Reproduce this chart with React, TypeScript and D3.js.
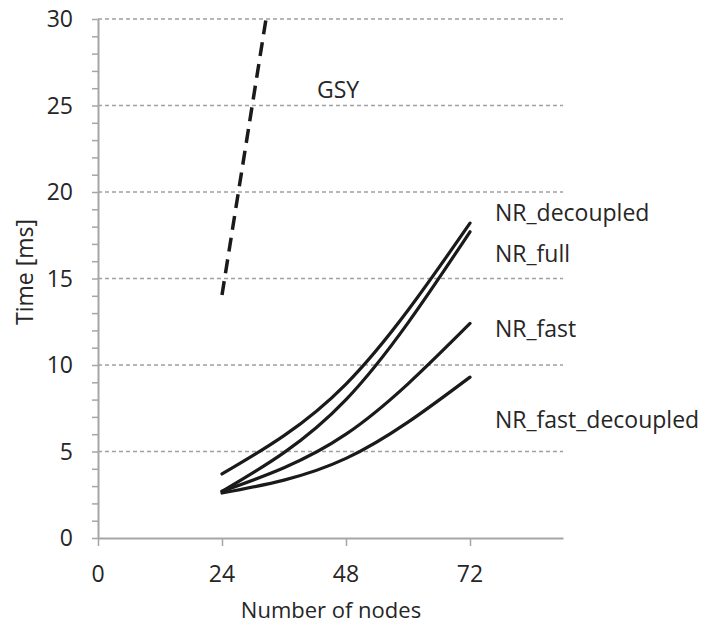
import React, { useRef, useEffect } from "react";
import * as d3 from "d3";

// nodes on x axis
const nodes = [24, 48, 72];

// series values (ms)
const nrDecoupled = [3.7, 8.9, 18.2];
const nrFull = [2.7, 8.0, 17.7];
const nrFast = [2.7, 6.0, 12.4];
const nrFastDecoupled = [2.6, 4.6, 9.3];
const gsy = [14.05, 59, 104];

const seriesNames = ["NR_decoupled", "NR_full", "NR_fast", "NR_fast_decoupled"];
const seriesValues = [nrDecoupled, nrFull, nrFast, nrFastDecoupled];
// baseline of each label, in ms
const labelValues = [18.4, 16.0, 11.65, 6.4];

const xTicks = [0, 24, 48, 72];
const yTicks = [0, 5, 10, 15, 20, 25, 30];

const App = () => {
  const svgRef = useRef<SVGSVGElement>(null);

  useEffect(() => {
    document.body.style.margin = "0";
    const svg = d3.select(svgRef.current);
    svg.selectAll("*").remove();

    const left = 98, right = 563, top = 19, bottom = 538;
    const font = "'Open Sans', sans-serif";
    const fontSize = 23;
    const textColor = "#262626";
    const axisColor = "#a6a6a6";

    const x = d3.scaleLinear().domain([0, 90]).range([left, right]);
    const y = d3.scaleLinear().domain([0, 30]).range([bottom, top]);

    svg
      .append("defs")
      .append("clipPath")
      .attr("id", "plot-clip")
      .append("rect")
      .attr("x", left)
      .attr("y", top)
      .attr("width", right - left)
      .attr("height", bottom - top);

    // gridlines
    svg
      .append("g")
      .selectAll("line")
      .data(yTicks.filter((d) => d > 0))
      .join("line")
      .attr("x1", left)
      .attr("x2", right)
      .attr("y1", (d) => y(d))
      .attr("y2", (d) => y(d))
      .attr("stroke", "#a0a0a0")
      .attr("stroke-width", 1.3)
      .attr("stroke-dasharray", "4,3");

    // y axis with minor ticks
    const yAxis = svg.append("g").attr("transform", `translate(${left},0)`);
    yAxis.call(
      d3
        .axisLeft(y)
        .tickValues(d3.range(0, 31, 1))
        .tickSize(6)
        .tickSizeOuter(0)
        .tickFormat(() => "")
    );
    yAxis.selectAll("line").attr("stroke", axisColor).attr("stroke-width", 1.5);
    yAxis.select(".domain").attr("stroke", axisColor).attr("stroke-width", 2);

    svg
      .append("g")
      .selectAll("text")
      .data(yTicks)
      .join("text")
      .attr("x", 73)
      .attr("y", (d) => y(d) + 8.3)
      .attr("text-anchor", "end")
      .attr("font-family", font)
      .attr("font-size", fontSize)
      .attr("fill", textColor)
      .text((d) => d);

    // x axis
    const xAxis = svg.append("g").attr("transform", `translate(0,${bottom})`);
    xAxis.call(d3.axisBottom(x).tickValues(xTicks).tickSize(8).tickSizeOuter(0).tickFormat(() => ""));
    xAxis.selectAll("line").attr("stroke", axisColor).attr("stroke-width", 1.5);
    xAxis.select(".domain").attr("stroke", axisColor).attr("stroke-width", 2);

    svg
      .append("g")
      .selectAll("text")
      .data(xTicks)
      .join("text")
      .attr("x", (d) => x(d))
      .attr("y", 582)
      .attr("text-anchor", "middle")
      .attr("font-family", font)
      .attr("font-size", fontSize)
      .attr("fill", textColor)
      .text((d) => d);

    // axis titles
    svg
      .append("text")
      .attr("x", 331)
      .attr("y", 618)
      .attr("text-anchor", "middle")
      .attr("font-family", font)
      .attr("font-size", 22)
      .attr("fill", textColor)
      .text("Number of nodes");

    svg
      .append("text")
      .attr("transform", "translate(33,272) rotate(-90)")
      .attr("text-anchor", "middle")
      .attr("font-family", font)
      .attr("font-size", fontSize)
      .attr("fill", textColor)
      .text("Time [ms]");

    const line = d3
      .line<number>()
      .x((d, i) => x(nodes[i]))
      .y((d) => y(d))
      .curve(d3.curveNatural);

    // NR series
    svg
      .append("g")
      .selectAll("path")
      .data(seriesValues)
      .join("path")
      .attr("d", (d) => line(d))
      .attr("fill", "none")
      .attr("stroke", "#1a1a1a")
      .attr("stroke-width", 3.2)
      .attr("stroke-linecap", "round");

    // GSY dashed, clipped at the top
    svg
      .append("path")
      .datum(gsy)
      .attr("d", line)
      .attr("clip-path", "url(#plot-clip)")
      .attr("fill", "none")
      .attr("stroke", "#1a1a1a")
      .attr("stroke-width", 3.5)
      .attr("stroke-dasharray", "14,8");

    // labels
    svg
      .append("g")
      .selectAll("text")
      .data(seriesNames)
      .join("text")
      .attr("x", 495)
      .attr("y", (d, i) => y(labelValues[i]) + 1)
      .attr("font-family", font)
      .attr("font-size", fontSize)
      .attr("fill", textColor)
      .text((d) => d);

    svg
      .append("text")
      .attr("x", 317)
      .attr("y", 98)
      .attr("font-family", font)
      .attr("font-size", fontSize)
      .attr("fill", textColor)
      .text("GSY");
  }, []);

  return <svg ref={svgRef} width={708} height={626} style={{ display: "block", background: "white" }}></svg>;
};

export default App;
